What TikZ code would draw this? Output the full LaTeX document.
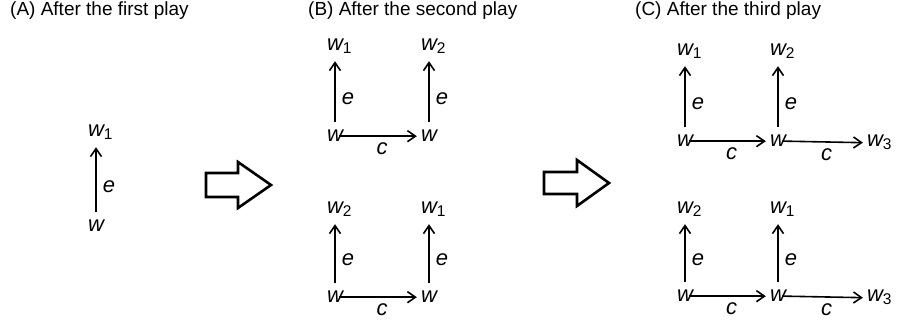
\documentclass[tikz,border=0pt]{standalone}
\usepackage{fontspec}
\setmainfont{Liberation Sans}
\usetikzlibrary{arrows.meta}

% world label with an upright subscript that does not widen the node
\newcommand\wsub[1]{w\rlap{\raisebox{-3pt}{\fontsize{15.5}{16}\selectfont\upshape #1}}}

\begin{document}
\begin{tikzpicture}[x=1pt,y=-1pt,
  lbl/.style={inner sep=0pt, font=\fontsize{22}{24}\selectfont\itshape},
  ttl/.style={inner sep=0pt, anchor=base west, font=\fontsize{19}{22}\selectfont},
  arr/.style={-{Straight Barb[length=8pt,width=11pt,line width=1.6pt]}, line width=1.6pt},
  up/.style={arr, shorten <=8pt, shorten >=7pt},
  side/.style={arr, shorten <=-4pt, shorten >=4pt},
  elbl/.style={lbl, pos=0.42, right=6pt},
  clbl/.style={lbl, below=6pt},
  hollow/.style={line width=2.6pt, miter limit=10}
]
\useasboundingbox (0,0) rectangle (898,320);

% titles
\node[ttl] (tA) at (10,16) {(A) After the first play};
\node[ttl] (tB) at (308,16) {(B) After the second play};
\node[ttl] (tC) at (635,16) {(C) After the third play};

% (A)
\node[lbl, anchor=base] (aw)  at (96,232) {w};
\node[lbl, anchor=base] (aw1) at (96,137) {\wsub{1}};
\draw[up] (aw.north) -- node[elbl]{e} (aw.north |- aw1.south);

% hollow arrows between the panels
\draw[hollow] (206,173) -- (238,173) -- (238,162) -- (271,185) -- (238,208) -- (238,197) -- (206,197) -- cycle;
\draw[hollow] (544,172) -- (577,172) -- (577,160) -- (609,183) -- (577,206) -- (577,194) -- (544,194) -- cycle;

% (B) upper
\node[lbl, anchor=base] (bua)  at (335,142) {w};
\node[lbl, anchor=base] (bub)  at (429,142) {w};
\node[lbl, anchor=base] (bua1) at (335,51) {\wsub{1}};
\node[lbl, anchor=base] (bub2) at (429,51) {\wsub{2}};
\draw[up] (bua.north) -- node[elbl]{e} (bua.north |- bua1.south);
\draw[up] (bub.north) -- node[elbl]{e} (bub.north |- bub2.south);
\draw[side] (bua.east) -- node[clbl]{c} (bub.west);

% (B) lower
\node[lbl, anchor=base] (bla)  at (335,303) {w};
\node[lbl, anchor=base] (blb)  at (429,303) {w};
\node[lbl, anchor=base] (bla2) at (335,214) {\wsub{2}};
\node[lbl, anchor=base] (blb1) at (429,214) {\wsub{1}};
\draw[up] (bla.north) -- node[elbl]{e} (bla.north |- bla2.south);
\draw[up] (blb.north) -- node[elbl]{e} (blb.north |- blb1.south);
\draw[side] (bla.east) -- node[clbl]{c} (blb.west);

% (C) upper
\node[lbl, anchor=base] (cua)  at (685,147) {w};
\node[lbl, anchor=base] (cub)  at (778,147) {w};
\node[lbl, anchor=base] (cuc3) at (875,147) {\wsub{3}};
\node[lbl, anchor=base] (cua1) at (685,56) {\wsub{1}};
\node[lbl, anchor=base] (cub2) at (778,56) {\wsub{2}};
\draw[up] (cua.north) -- node[elbl]{e} (cua.north |- cua1.south);
\draw[up] (cub.north) -- node[elbl]{e} (cub.north |- cub2.south);
\draw[side] (cua.east) -- node[clbl]{c} (cub.west);
\draw[side] (cub.east) -- node[clbl]{c} (cuc3.west);

% (C) lower
\node[lbl, anchor=base] (cla)  at (685,302) {w};
\node[lbl, anchor=base] (clb)  at (778,302) {w};
\node[lbl, anchor=base] (clc3) at (875,302) {\wsub{3}};
\node[lbl, anchor=base] (cla2) at (685,214) {\wsub{2}};
\node[lbl, anchor=base] (clb1) at (778,214) {\wsub{1}};
\draw[up] (cla.north) -- node[elbl]{e} (cla.north |- cla2.south);
\draw[up] (clb.north) -- node[elbl]{e} (clb.north |- clb1.south);
\draw[side] (cla.east) -- node[clbl]{c} (clb.west);
\draw[side] (clb.east) -- node[clbl]{c} (clc3.west);
\end{tikzpicture}
\end{document}
